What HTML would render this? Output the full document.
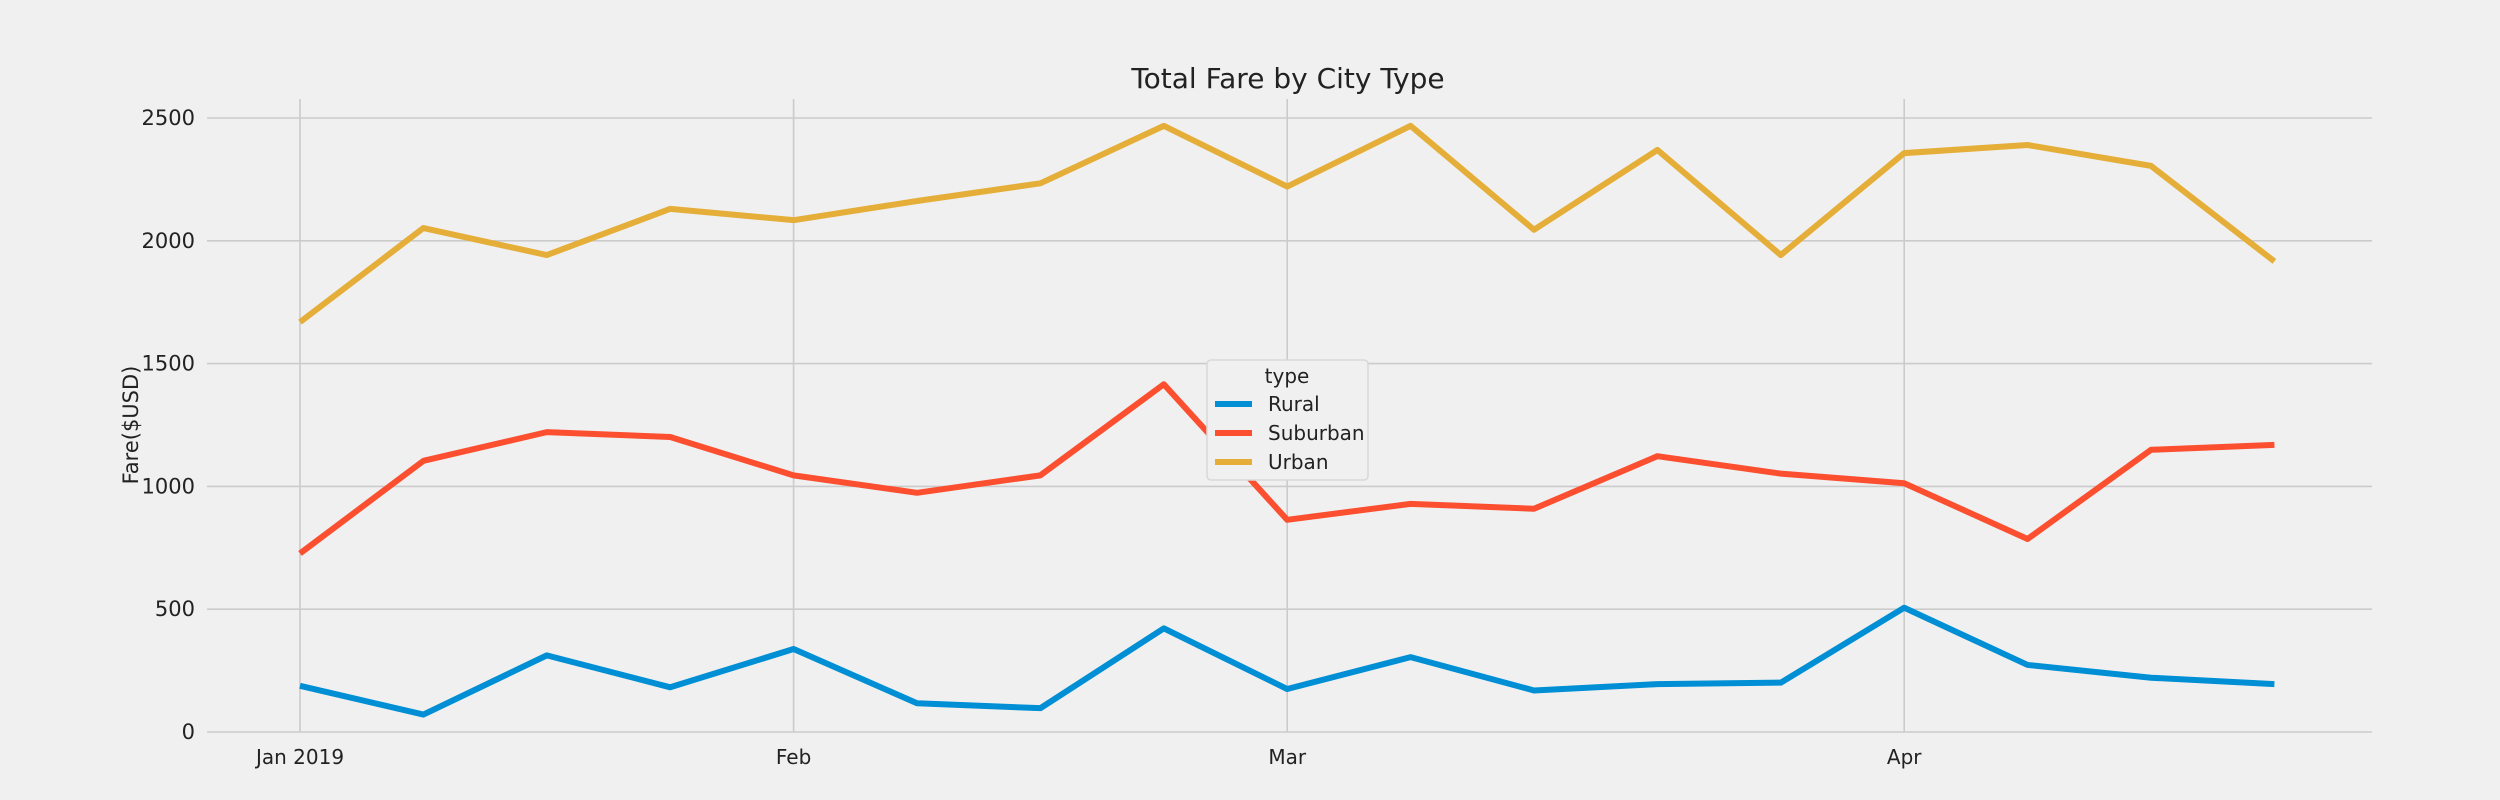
<!DOCTYPE html>
<html><head><meta charset="utf-8">
<style>
html,body{margin:0;padding:0;background:#f0f0f0;}
svg{display:block;font-family:"DejaVu Sans","Liberation Sans",sans-serif;}
</style></head>
<body>
<svg id="chart" width="2500" height="800" viewBox="0 0 2500 800">
<rect width="2500" height="800" fill="#f0f0f0"/>
<g id="grid"></g>
<g id="series"></g>
<g id="axes"></g>
<text x="1288" y="88" font-size="28" text-anchor="middle" fill="#222">Total Fare by City Type</text>
<text transform="translate(138,425) rotate(-90)" font-size="21" text-anchor="middle" fill="#222">Fare($USD)</text>
<g id="legend"></g>
</svg>
<script>
const seriesNames = ["Rural","Suburban","Urban"];
const rural = [188,71,312,182,338,117,97,422,175,305,169,195,201,506,273,221,195];
const suburban = [727,1104,1221,1201,1045,974,1045,1416,864,929,909,1123,1052,1013,786,1149,1169];
const urban = [1669,2052,1942,2130,2084,2162,2234,2468,2221,2468,2045,2370,1942,2357,2390,2305,1916];
const yTicks = [0,500,1000,1500,2000,2500];
const xTickIdx = [0,4,8,13];
const xTickLabels = ["Jan 2019","Feb","Mar","Apr"];
const colors = ["#008fd5","#fc4f30","#e5ae38"];

const NS="http://www.w3.org/2000/svg";
const L=207,R=2372,T=99,B=732;
const x0=300, step=123.4;
const xs=i=>x0+i*step;
const ys=v=>732-v*(732-118)/2500;
function mk(tag,attrs,parent){const e=document.createElementNS(NS,tag);for(const k in attrs)e.setAttribute(k,attrs[k]);parent.appendChild(e);return e;}
const grid=document.getElementById('grid'),axes=document.getElementById('axes'),ser=document.getElementById('series'),leg=document.getElementById('legend');
yTicks.forEach(v=>{
  const l=mk('line',{x1:L,x2:R,y1:ys(v),y2:ys(v),stroke:'#cbcbcb','stroke-width':1.6},grid);
  
  
  const t=mk('text',{x:L-12,y:ys(v)+7,'font-size':21,'text-anchor':'end',fill:'#222'},axes);
  t.textContent=v;
  
  
});
xTickIdx.forEach((idx,k)=>{
  const l=mk('line',{x1:xs(idx),x2:xs(idx),y1:T,y2:B,stroke:'#cbcbcb','stroke-width':1.6},grid);
  
  
  const t=mk('text',{x:xs(idx),y:B+32,'font-size':20,'text-anchor':'middle',fill:'#222'},axes);
  t.textContent=xTickLabels[k];
  
  
});
[rural,suburban,urban].forEach((arr,si)=>{
  const p=mk('polyline',{points:arr.map((v,i)=>xs(i)+','+ys(v)).join(' '),fill:'none',stroke:colors[si],'stroke-width':6,'stroke-linejoin':'round','stroke-linecap':'butt'},ser);
  
  
});
const lb=mk('rect',{x:1207,y:360,width:161,height:120,rx:4,fill:'#f0f0f0',stroke:'#d8d8d8','stroke-width':1.5},leg);


const lt=mk('text',{x:1287,y:383,'font-size':20,'text-anchor':'middle',fill:'#222'},leg);
lt.textContent='type';


seriesNames.forEach((n,i)=>{
  const y=404+i*29;
  const ln=mk('line',{x1:1215,x2:1252,y1:y,y2:y,stroke:colors[i],'stroke-width':6},leg);
  
  
  const t=mk('text',{x:1268,y:y+7,'font-size':20,fill:'#222'},leg);
  t.textContent=n;
  
  
});
</script>
</body></html>
